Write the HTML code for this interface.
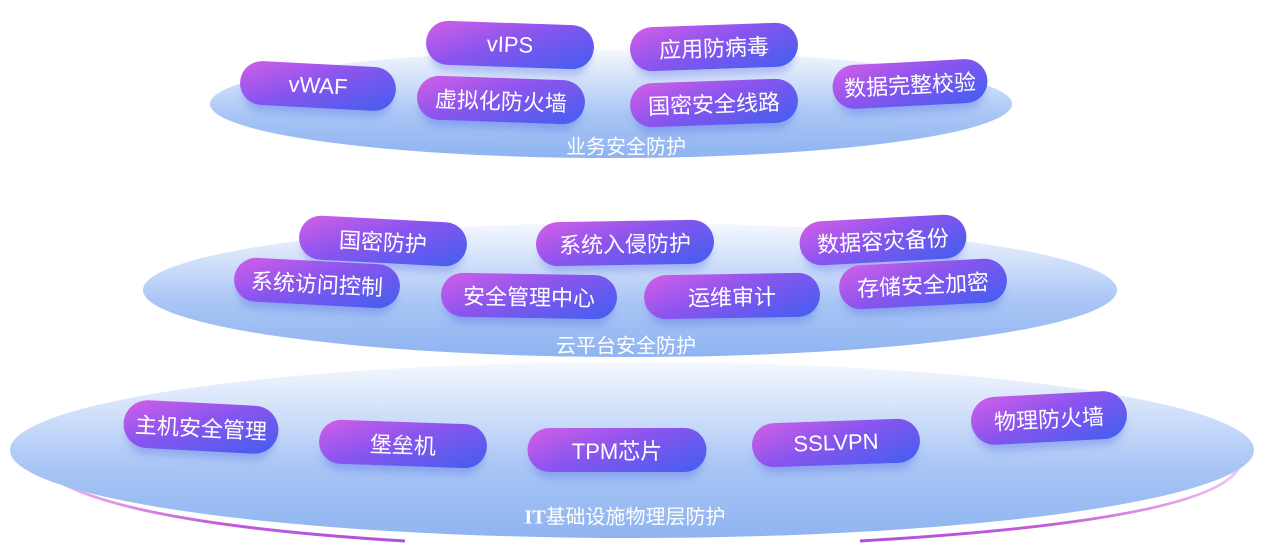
<!DOCTYPE html>
<html><head><meta charset="utf-8"><style>
body{margin:0;width:1269px;height:557px;background:#fff;position:relative;overflow:hidden;font-family:"Liberation Sans","Noto Sans CJK SC",sans-serif}
.p{position:absolute;height:44px;border-radius:22px;background:linear-gradient(160deg,#d45ee8 0%,#8a55ee 45%,#3f5ff0 100%);color:#fff;font-size:22px;display:flex;align-items:center;justify-content:center;box-shadow:0 10px 8px -4px rgba(80,100,230,.35);transform:translate(-50%,-50%)}
.l{position:absolute;color:#fff;font-size:20px;transform:translate(-50%,-50%);white-space:nowrap}
</style></head><body>
<svg width="1269" height="557" style="position:absolute;left:0;top:0">
<defs>
<linearGradient id="g" x1="0" y1="0" x2="0" y2="1"><stop offset="0" stop-color="#f5f8fe"/><stop offset=".3" stop-color="#cfdffa"/><stop offset=".6" stop-color="#a8c5f5"/><stop offset="1" stop-color="#8fb4f1"/></linearGradient>
<linearGradient id="a" x1="0" y1="0" x2="1" y2="0"><stop offset="0" stop-color="#f3c6f3"/><stop offset=".5" stop-color="#c45ad8"/><stop offset="1" stop-color="#b04ee0"/></linearGradient>
<linearGradient id="b" x1="1" y1="0" x2="0" y2="0"><stop offset="0" stop-color="#f3c6f3"/><stop offset=".5" stop-color="#c45ad8"/><stop offset="1" stop-color="#b04ee0"/></linearGradient>
</defs>
<path d="M30,455 Q60,520 405,541" stroke="url(#a)" stroke-width="3" fill="none"/>
<path d="M1240,465 Q1220,520 860,541" stroke="url(#b)" stroke-width="3" fill="none"/>
<ellipse cx="632" cy="450" rx="622" ry="88" fill="url(#g)"/>
<ellipse cx="630" cy="290" rx="487" ry="67" fill="url(#g)"/>
<ellipse cx="611" cy="104" rx="401" ry="54" fill="url(#g)"/>
</svg>
<div class="p" style="left:510px;top:45px;width:168px;transform:translate(-50%,-50%) rotate(2deg)">vIPS</div>
<div class="p" style="left:714px;top:47px;width:168px;transform:translate(-50%,-50%) rotate(-2deg)">应用防病毒</div>
<div class="p" style="left:318px;top:86px;width:156px;transform:translate(-50%,-50%) rotate(3deg)">vWAF</div>
<div class="p" style="left:501px;top:100px;width:168px;transform:translate(-50%,-50%) rotate(2deg)">虚拟化防火墙</div>
<div class="p" style="left:714px;top:103px;width:168px;transform:translate(-50%,-50%) rotate(-2deg)">国密安全线路</div>
<div class="p" style="left:910px;top:84px;width:155px;transform:translate(-50%,-50%) rotate(-3deg)">数据完整校验</div>
<div class="l" style="left:626px;top:145px">业务安全防护</div>
<div class="p" style="left:383px;top:241px;width:168px;transform:translate(-50%,-50%) rotate(3deg)">国密防护</div>
<div class="p" style="left:625px;top:243px;width:178px;transform:translate(-50%,-50%) rotate(-1deg)">系统入侵防护</div>
<div class="p" style="left:883px;top:240px;width:167px;transform:translate(-50%,-50%) rotate(-3deg)">数据容灾备份</div>
<div class="p" style="left:317px;top:283px;width:166px;transform:translate(-50%,-50%) rotate(3deg)">系统访问控制</div>
<div class="p" style="left:529px;top:296px;width:176px;transform:translate(-50%,-50%) rotate(1deg)">安全管理中心</div>
<div class="p" style="left:732px;top:296px;width:176px;transform:translate(-50%,-50%) rotate(-1deg)">运维审计</div>
<div class="p" style="left:923px;top:284px;width:168px;transform:translate(-50%,-50%) rotate(-3deg)">存储安全加密</div>
<div class="l" style="left:626px;top:344px">云平台安全防护</div>
<div class="p" style="left:201px;top:427px;width:155px;height:48px;border-radius:24px;transform:translate(-50%,-50%) rotate(3deg)">主机安全管理</div>
<div class="p" style="left:403px;top:444px;width:168px;transform:translate(-50%,-50%) rotate(2deg)">堡垒机</div>
<div class="p" style="left:617px;top:450px;width:179px;transform:translate(-50%,-50%) rotate(0deg)">TPM芯片</div>
<div class="p" style="left:836px;top:443px;width:168px;transform:translate(-50%,-50%) rotate(-2deg)">SSLVPN</div>
<div class="p" style="left:1049px;top:418px;width:156px;height:48px;border-radius:24px;transform:translate(-50%,-50%) rotate(-3deg)">物理防火墙</div>
<div class="l" style="left:625px;top:515px"><b style="font-family:'Liberation Serif',serif">IT</b>基础设施物理层防护</div>
</body></html>
